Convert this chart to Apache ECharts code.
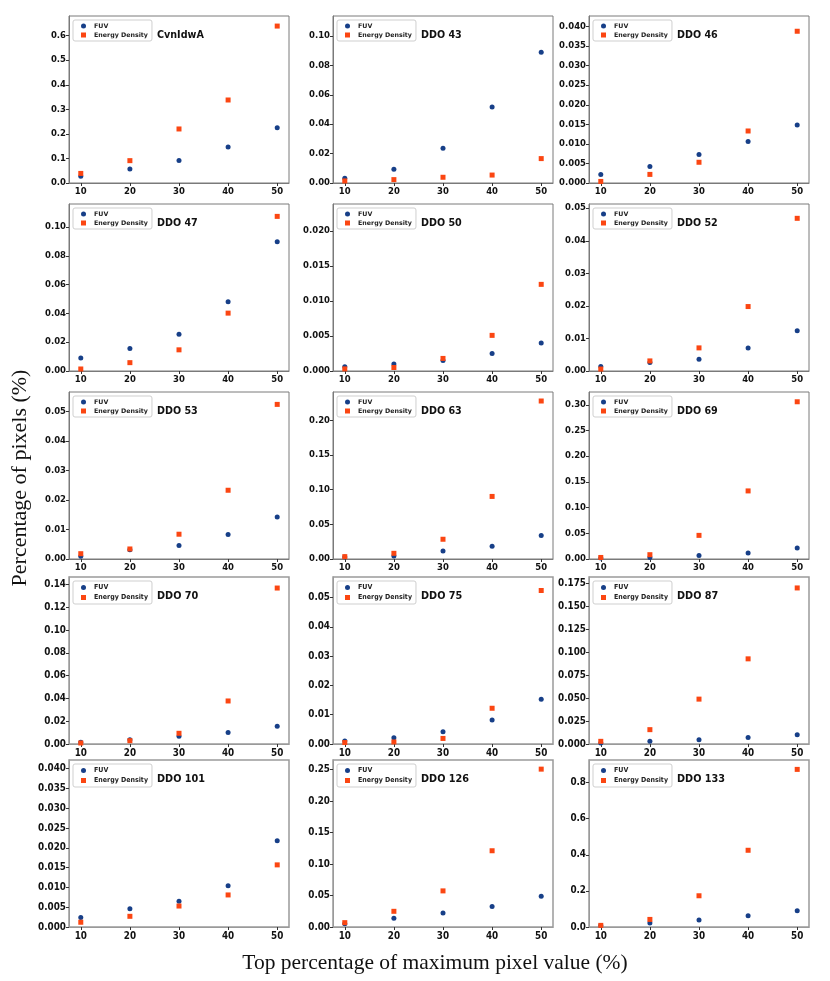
<!DOCTYPE html>
<html>
<head>
<meta charset="UTF-8">
<title>Top percentage of maximum pixel value</title>
<script src="https://cdn.jsdelivr.net/npm/echarts@6/dist/echarts.min.js"></script>
<style>
	body{margin:0;background:#fff;}
	#main{width:830px;height:981px;}
</style>
</head>
<body>
<div id="main"></div>
<script>
// data
var xValues = [10, 20, 30, 40, 50];
var xTicks = [10, 20, 30, 40, 50];
var names = ['CvnIdwA','DDO 43','DDO 46','DDO 47','DDO 50','DDO 52','DDO 53','DDO 63','DDO 69','DDO 70','DDO 75','DDO 87','DDO 101','DDO 126','DDO 133'];
var fuv = [
	[0.027, 0.057, 0.092, 0.147, 0.225],
	[0.0032, 0.0093, 0.0236, 0.0517, 0.0889],
	[0.0022, 0.0042, 0.0073, 0.0106, 0.0148],
	[0.0091, 0.0156, 0.0256, 0.0481, 0.0898],
	[0.0006, 0.0010, 0.0015, 0.0025, 0.0040],
	[0.0014, 0.0026, 0.0036, 0.0071, 0.0124],
	[0.0009, 0.0031, 0.0046, 0.0083, 0.0142],
	[0.0030, 0.0043, 0.0116, 0.0184, 0.0338],
	[0.0020, 0.0030, 0.0070, 0.0117, 0.0214],
	[0.0015, 0.0038, 0.0067, 0.0102, 0.0155],
	[0.0010, 0.0021, 0.0042, 0.0082, 0.0153],
	[0.0010, 0.0029, 0.0047, 0.0072, 0.0101],
	[0.0024, 0.0046, 0.0065, 0.0104, 0.0218],
	[0.0050, 0.0138, 0.0223, 0.0324, 0.0488],
	[0.009, 0.022, 0.0386, 0.0625, 0.090]
];
var energy = [
	[0.039, 0.091, 0.220, 0.338, 0.639],
	[0.0014, 0.0023, 0.0039, 0.0054, 0.0166],
	[0.0004, 0.0022, 0.0053, 0.0133, 0.0388],
	[0.0014, 0.0058, 0.0147, 0.0402, 0.1074],
	[0.0003, 0.0005, 0.0018, 0.0051, 0.0124],
	[0.0006, 0.0031, 0.0071, 0.0198, 0.0469],
	[0.0018, 0.0034, 0.0084, 0.0233, 0.0524],
	[0.0034, 0.0082, 0.0285, 0.0903, 0.228],
	[0.0030, 0.0084, 0.046, 0.1325, 0.306],
	[0.0009, 0.0029, 0.0094, 0.0378, 0.137],
	[0.0005, 0.0007, 0.0019, 0.0122, 0.0524],
	[0.0029, 0.0156, 0.0488, 0.0926, 0.1697],
	[0.0012, 0.0027, 0.0053, 0.0081, 0.0157],
	[0.0069, 0.0249, 0.0573, 0.121, 0.2505],
	[0.009, 0.042, 0.173, 0.425, 0.873]
];
var yMax = [0.68, 0.1136, 0.0427, 0.116, 0.0239, 0.0513, 0.0566, 0.241, 0.325, 0.1467, 0.057, 0.1816, 0.0422, 0.265, 0.925];
var yTicks = [
	['0.0','0.1','0.2','0.3','0.4','0.5','0.6'],
	['0.00','0.02','0.04','0.06','0.08','0.10'],
	['0.000','0.005','0.010','0.015','0.020','0.025','0.030','0.035','0.040'],
	['0.00','0.02','0.04','0.06','0.08','0.10'],
	['0.000','0.005','0.010','0.015','0.020'],
	['0.00','0.01','0.02','0.03','0.04','0.05'],
	['0.00','0.01','0.02','0.03','0.04','0.05'],
	['0.00','0.05','0.10','0.15','0.20'],
	['0.00','0.05','0.10','0.15','0.20','0.25','0.30'],
	['0.00','0.02','0.04','0.06','0.08','0.10','0.12','0.14'],
	['0.00','0.01','0.02','0.03','0.04','0.05'],
	['0.000','0.025','0.050','0.075','0.100','0.125','0.150','0.175'],
	['0.000','0.005','0.010','0.015','0.020','0.025','0.030','0.035','0.040'],
	['0.00','0.05','0.10','0.15','0.20','0.25'],
	['0.0','0.2','0.4','0.6','0.8']
];

var colLeft = [69, 333, 589];
var rowTop = [16, 204, 392, 577, 760];
var panelW = 220, panelH = 167;
var blue = '#173f88', orange = '#fb4612';

var grids = [], xAxes = [], yAxes = [], series = [], legends = [], titles = [];

names.forEach(function(name, i){
	var row = Math.floor(i / 3);
	var left = colLeft[i % 3], top = rowTop[row];
	// the two bottom rows of the figure were scaled taller, so their text looks condensed
	var narrow = row >= 3;
	var font = narrow ? 'DejaVu Sans Condensed' : 'DejaVu Sans';
	var tickSize = narrow ? 9.8 : 8.5;
	var labels = yTicks[i];
	var dec = labels[0].split('.')[1].length;
	grids.push({
		left: left, top: top, width: panelW, height: panelH,
		show: true, borderColor: narrow ? '#9a9a9a' : '#7a7a7a', borderWidth: narrow ? 1.5 : 1,
		backgroundColor: 'transparent', outerBoundsMode: 'none'
	});
	xAxes.push({
		type: 'value', gridIndex: i, min: 7.6, max: 52.4,
		splitLine: {show: false},
		axisLine: {lineStyle: {color: narrow ? '#9a9a9a' : '#7a7a7a'}},
		axisTick: {length: 3, lineStyle: {color: '#333'}, customValues: xTicks},
		axisLabel: {customValues: xTicks, fontFamily: font, fontWeight: 'bold', fontSize: tickSize, color: '#111', margin: 4}
	});
	yAxes.push({
		type: 'value', gridIndex: i, min: 0, max: yMax[i],
		splitLine: {show: false},
		axisLine: {show: true, lineStyle: {color: narrow ? '#9a9a9a' : '#7a7a7a'}},
		axisTick: {show: true, length: 3, lineStyle: {color: '#333'}, customValues: labels.map(Number)},
		axisLabel: {
			customValues: labels.map(Number),
			formatter: function(v){ return v.toFixed(dec); },
			fontFamily: font, fontWeight: 'bold', fontSize: tickSize, color: '#111', margin: 3
		}
	});
	series.push({
		name: 'FUV', type: 'scatter', xAxisIndex: i, yAxisIndex: i,
		symbol: 'circle', symbolSize: 5, itemStyle: {color: blue, opacity: 1},
		data: xValues.map(function(x, k){ return [x, fuv[i][k]]; })
	});
	series.push({
		name: 'Energy Density', type: 'scatter', xAxisIndex: i, yAxisIndex: i,
		symbol: 'rect', symbolSize: 5, itemStyle: {color: orange, opacity: 1},
		data: xValues.map(function(x, k){ return [x, energy[i][k]]; })
	});
	legends.push({
		left: left + 4, top: top + 4, orient: 'vertical',
		data: [{name: 'FUV', icon: 'circle'}, {name: 'Energy Density', icon: 'rect'}],
		itemWidth: 5, itemHeight: 5, itemGap: 3,
		padding: [3, 4, 3, 8],
		borderColor: '#cfcfcf', borderWidth: 1, borderRadius: 2,
		backgroundColor: '#fff',
		selectedMode: false,
		textStyle: {fontFamily: font, fontWeight: 'bold', fontSize: narrow ? 7 : 6.3, color: '#222', padding: [0, 0, 0, 3]}
	});
	titles.push({
		text: name, left: left + 88, top: top + 14, padding: 0,
		textStyle: {fontFamily: font, fontWeight: 'bold', fontSize: narrow ? 10.8 : 9.6, color: '#111'}
	});
});

var myChart = echarts.init(document.getElementById('main'));
myChart.setOption({
	animation: false,
	backgroundColor: '#fff',
	title: titles,
	legend: legends,
	grid: grids,
	xAxis: xAxes,
	yAxis: yAxes,
	series: series,
	graphic: [
		{
			type: 'text', x: 20, y: 478, rotation: Math.PI / 2,
			style: {text: 'Percentage of pixels (%)', align: 'center', verticalAlign: 'middle',
				font: '22px "Liberation Serif"', fill: '#111'}
		},
		{
			type: 'text', x: 435, y: 963,
			style: {text: 'Top percentage of maximum pixel value (%)', align: 'center', verticalAlign: 'middle',
				font: '21.5px "Liberation Serif"', fill: '#111'}
		}
	]
});
</script>
</body>
</html>
